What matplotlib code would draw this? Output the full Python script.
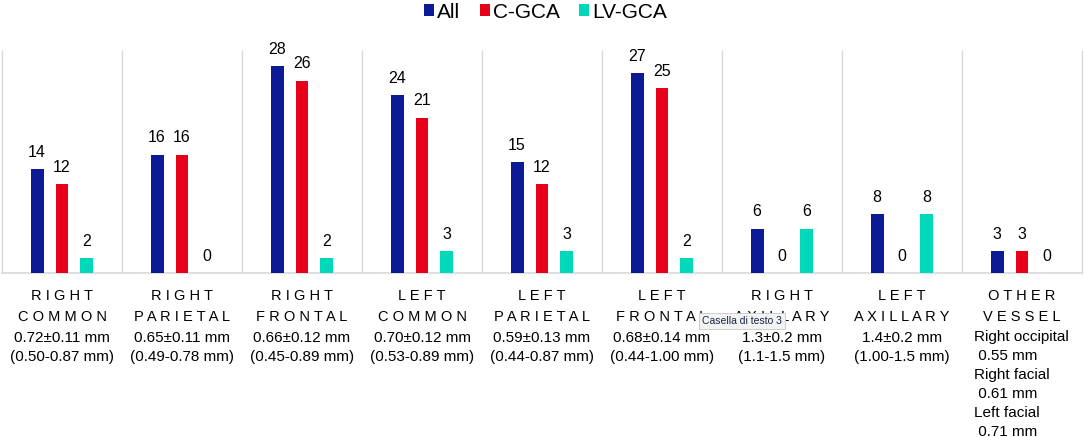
import matplotlib
matplotlib.use("Agg")
import matplotlib.pyplot as plt
import matplotlib.transforms as mtransforms
from matplotlib.patches import Patch
import numpy as np

plt.rcParams['font.family'] = ['Liberation Sans', 'DejaVu Sans']

# ---- data ----
series_names = ["All", "C-GCA", "LV-GCA"]
all_vals = [14, 16, 28, 24, 15, 27, 6, 8, 3]
cgca_vals = [12, 16, 26, 21, 12, 25, 0, 0, 3]
lvgca_vals = [2, 0, 2, 3, 3, 2, 6, 8, 0]
cat_line1 = ["RIGHT", "RIGHT", "RIGHT", "LEFT", "LEFT", "LEFT", "RIGHT", "LEFT", "OTHER"]
cat_line2 = ["COMMON", "PARIETAL", "FRONTAL", "COMMON", "PARIETAL", "FRONTAL",
             "AXILLARY", "AXILLARY", "VESSEL"]
mean_sd = ["0.72±0.11 mm", "0.65±0.11 mm", "0.66±0.12 mm", "0.70±0.12 mm",
           "0.59±0.13 mm", "0.68±0.14 mm", "1.3±0.2 mm", "1.4±0.2 mm", None]
ranges = ["(0.50-0.87 mm)", "(0.49-0.78 mm)", "(0.45-0.89 mm)", "(0.53-0.89 mm)",
          "(0.44-0.87 mm)", "(0.44-1.00 mm)", "(1.1-1.5 mm)", "(1.00-1.5 mm)", None]
other_vessel_lines = ["Right occipital", " 0.55 mm", "Right facial", " 0.61 mm",
                      "Left facial", " 0.71 mm"]
tooltip_text = "Casella di testo 3"

colors = ["#0C1A96", "#E60019", "#00D9B9"]
grid_color = "#D9D9D9"

W, H = 1084, 437
fig = plt.figure(figsize=(W / 100, H / 100), dpi=100)
ax = fig.add_axes([2 / W, 1 - 273 / H, 1080 / W, 222 / H])

x = np.arange(len(all_vals))
offs = [-0.208, 0.0, 0.208]
bw = 0.108
for vals, off, c, name in zip([all_vals, cgca_vals, lvgca_vals], offs, colors, series_names):
    bars = ax.bar(x + off, vals, width=bw, color=c, label=name, zorder=3)
    ax.bar_label(bars, padding=6.6, fontsize=11.5, color="black")

ax.set_xlim(-0.5, len(all_vals) - 0.5)
ax.set_ylim(0, 30)
for s in ["top", "right", "left"]:
    ax.spines[s].set_visible(False)
ax.spines["bottom"].set_color(grid_color)
ax.spines["bottom"].set_linewidth(1.2)
ax.set_xticks([])
ax.set_yticks([])
for b in np.arange(-0.5, len(all_vals), 1.0):
    ax.axvline(b, color=grid_color, lw=1.0, zorder=1, clip_on=False)

# category labels
trans = mtransforms.blended_transform_factory(ax.transData, fig.transFigure)
def fy(ypix):
    return 1 - ypix / H

def spaced(s):
    return " ".join(list(s))

base1, base2, base3, base4 = 300.5, 321, 341.5, 360.5
for i in range(len(all_vals)):
    ax.text(i, fy(base1), spaced(cat_line1[i]), transform=trans, ha="center",
            va="baseline", fontsize=10.5, clip_on=False)
    ax.text(i, fy(base2), spaced(cat_line2[i]), transform=trans, ha="center",
            va="baseline", fontsize=10.5, clip_on=False)
    if mean_sd[i] is not None:
        ax.text(i, fy(base3), mean_sd[i], transform=trans, ha="center",
                va="baseline", fontsize=11, clip_on=False)
        ax.text(i, fy(base4), ranges[i], transform=trans, ha="center",
                va="baseline", fontsize=11, clip_on=False)

ov_x = len(all_vals) - 1 - 0.4
for k, line in enumerate(other_vessel_lines):
    ax.text(ov_x, fy(base3 + k * 18.9), line, transform=trans, ha="left",
            va="baseline", fontsize=11, clip_on=False)

# legend
handles = [Patch(facecolor=c, edgecolor="none") for c in colors]
fig.legend(handles, series_names, loc="center", bbox_to_anchor=(545.5 / W, 1 - 12 / H),
           ncol=3, frameon=False, fontsize=15, handlelength=0.48, handleheight=0.48,
           handletextpad=0.15, columnspacing=0.95, borderaxespad=0, borderpad=0)

# tooltip overlay
fig.text(742 / W, fy(321), tooltip_text, ha="center", va="center", fontsize=7.5,
         color="#1A2340", zorder=10,
         bbox=dict(boxstyle="square,pad=0.25", facecolor="#F3F3F3",
                   edgecolor="#C8C8C8", linewidth=0.6))

fig.savefig("out.png", dpi=100)
